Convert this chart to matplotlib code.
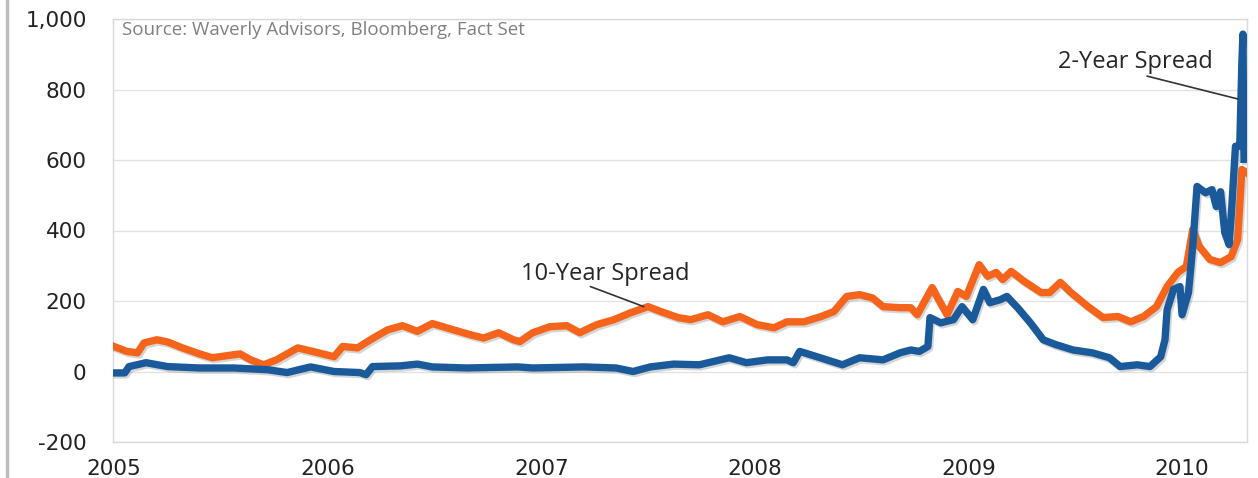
import matplotlib
matplotlib.use("Agg")
import matplotlib.pyplot as plt
import matplotlib.patheffects as pe
from matplotlib.lines import Line2D
from matplotlib.ticker import FuncFormatter

# 10-year spread (decimal year, bp)
years_10y = [2005.00, 2005.06, 2005.11, 2005.14, 2005.20, 2005.25, 2005.32, 2005.40,
             2005.46, 2005.53, 2005.59, 2005.64, 2005.70, 2005.76, 2005.86, 2005.93,
             2006.03, 2006.07, 2006.14, 2006.20, 2006.28, 2006.35, 2006.42, 2006.49,
             2006.59, 2006.67, 2006.73, 2006.80, 2006.87, 2006.90, 2006.96, 2007.04,
             2007.12, 2007.18, 2007.26, 2007.34, 2007.42, 2007.50, 2007.56, 2007.64,
             2007.70, 2007.78, 2007.85, 2007.93, 2008.01, 2008.09, 2008.15, 2008.23,
             2008.31, 2008.37, 2008.43, 2008.49, 2008.55, 2008.60, 2008.68, 2008.73,
             2008.76, 2008.83, 2008.86, 2008.90, 2008.95, 2008.99, 2009.05, 2009.09,
             2009.13, 2009.16, 2009.20, 2009.26, 2009.34, 2009.38, 2009.43, 2009.48,
             2009.56, 2009.63, 2009.70, 2009.76, 2009.82, 2009.88, 2009.93, 2009.98,
             2010.02, 2010.05, 2010.08, 2010.13, 2010.18, 2010.23, 2010.26, 2010.28,
             2010.30]
spread_10y = [71, 57, 53, 81, 90, 84, 67, 50,
              39, 45, 50, 33, 19, 33, 67, 57,
              42, 71, 67, 90, 118, 130, 114, 136,
              118, 104, 95, 110, 90, 85, 110, 127,
              130, 110, 133, 147, 167, 184, 170, 153,
              147, 161, 141, 156, 133, 124, 141, 141,
              156, 170, 213, 218, 209, 184, 181, 181,
              161, 238, 204, 161, 227, 213, 303, 270,
              281, 261, 284, 256, 224, 224, 253, 224,
              184, 153, 156, 141, 156, 184, 241, 281,
              298, 403, 355, 318, 309, 326, 374, 573,
              565]

# 2-year spread (decimal year, bp)
years_2y = [2005.01, 2005.05, 2005.07, 2005.15, 2005.25, 2005.40, 2005.56, 2005.72,
            2005.81, 2005.92, 2006.03, 2006.15, 2006.18, 2006.21, 2006.34, 2006.42,
            2006.49, 2006.65, 2006.89, 2006.96, 2007.20, 2007.35, 2007.43, 2007.51,
            2007.62, 2007.74, 2007.88, 2007.96, 2008.06, 2008.15, 2008.18, 2008.21,
            2008.29, 2008.41, 2008.49, 2008.60, 2008.68, 2008.73, 2008.77, 2008.81,
            2008.82, 2008.87, 2008.93, 2008.97, 2009.02, 2009.07, 2009.10, 2009.15,
            2009.18, 2009.23, 2009.29, 2009.35, 2009.41, 2009.49, 2009.58, 2009.66,
            2009.71, 2009.79, 2009.85, 2009.90, 2009.92, 2009.93, 2009.96, 2009.99,
            2010.00, 2010.03, 2010.05, 2010.07, 2010.11, 2010.14, 2010.16, 2010.18,
            2010.20, 2010.22, 2010.23, 2010.25, 2010.27, 2010.28, 2010.285, 2010.29]
spread_2y = [-4, -4, 14, 25, 14, 10, 10, 5,
             -3, 13, 0, -3, -9, 14, 16, 21,
             13, 10, 13, 10, 13, 10, 0, 13,
             21, 19, 39, 25, 33, 33, 25, 57,
             42, 19, 39, 33, 53, 61, 57, 71,
             153, 138, 147, 184, 147, 233, 195, 204,
             213, 181, 138, 90, 76, 61, 53, 39,
             14, 19, 14, 42, 90, 175, 233, 241,
             161, 224, 355, 525, 507, 516, 468, 510,
             394, 360, 440, 639, 639, 877, 957, 602]

x_ticks = [2005, 2006, 2007, 2008, 2009, 2010]
y_ticks = [-200, 0, 200, 400, 600, 800, 1000]

orange = "#F5641A"
blue = "#1B5A9A"

fig = plt.figure(figsize=(12.58, 4.78), dpi=100)
ax = fig.add_axes([113 / 1258, 36 / 478, (1247 - 113) / 1258, (459 - 36) / 478])

shadow = [pe.SimpleLineShadow(offset=(1.2, -1.5), shadow_color="#888888", alpha=0.35), pe.Normal()]
ax.plot(years_10y, spread_10y, color=orange, lw=5.3, solid_joinstyle="round", path_effects=shadow, zorder=3)
ax.plot(years_2y, spread_2y, color=blue, lw=5.3, solid_joinstyle="round", path_effects=shadow, zorder=4)

ax.set_xlim(2004.995, 2010.304)
ax.set_ylim(-200, 1000)
ax.set_xticks(x_ticks)
ax.set_yticks(y_ticks)
ax.yaxis.set_major_formatter(FuncFormatter(lambda v, p: f"{int(v):,}"))
ax.grid(axis="y", color="#E3E3E3", lw=1)
ax.set_axisbelow(True)
for s in ax.spines.values():
    s.set_color("#DADADA")
    s.set_linewidth(1)
ax.tick_params(length=0, labelsize=15.5, labelcolor="#222222")
ax.tick_params(axis="y", pad=19)
ax.tick_params(axis="x", pad=12)
for lab in ax.get_xticklabels() + ax.get_yticklabels():
    lab.set_family("DejaVu Sans")
    lab.set_fontweight("medium")

fig.text(122 / 1258, 1 - 30 / 478, "Source: Waverly Advisors, Bloomberg, Fact Set",
         fontsize=13.5, color="#808080", family="Open Sans", va="center")

ax.annotate("", xy=(2007.48, 184), xytext=(2007.23, 241),
            arrowprops=dict(arrowstyle="-", color="#333333", lw=1.2, shrinkA=0, shrinkB=0), zorder=5)
ax.text(2007.30, 277, "10-Year Spread", fontsize=17, family="Open Sans", color="#262626",
        ha="center", va="center")
ax.annotate("", xy=(2010.262, 773), xytext=(2009.836, 838),
            arrowprops=dict(arrowstyle="-", color="#333333", lw=1.2, shrinkA=0, shrinkB=0), zorder=5)
ax.text(2009.78, 879, "2-Year Spread", fontsize=17, family="Open Sans", color="#262626",
        ha="center", va="center")

fig.add_artist(Line2D([7 / 1258, 7 / 1258], [0, 1], color="#BBBBBB", lw=2.5))

fig.savefig("out.png", dpi=100)
